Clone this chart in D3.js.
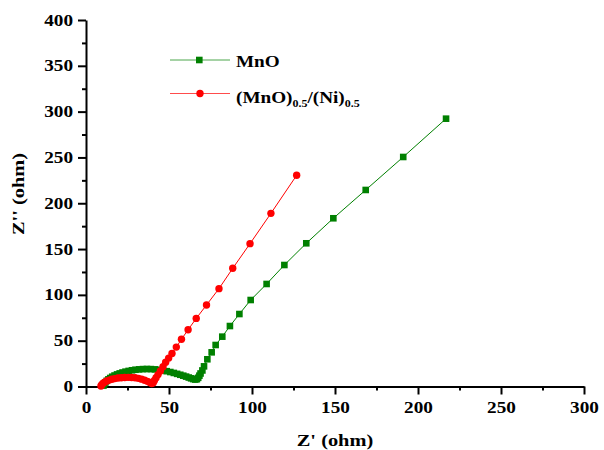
<!DOCTYPE html>
<html><head><meta charset="utf-8">
<script src="https://cdn.jsdelivr.net/npm/d3@7"></script>
<style>
html,body{margin:0;padding:0;background:#fff;}
svg{display:block;}
svg text{font-family:"Times New Roman","Liberation Serif",Times,Tinos,"DejaVu Serif",serif !important;font-weight:bold;}
</style></head>
<body>
<svg id="chart" width="604" height="450"></svg>
<script>
// Data (Z' in ohm, Z'' in ohm)
const mnoX = [10.5,11,11.7,12.5,13.5,14.6,15.8,17.2,18.7,20.3,22,23.8,25.7,27.7,29.8,32,34.3,36.7,39.1,41.5,43.9,46.3,48.6,50.8,52.9,54.9,56.8,58.6,60.3,61.9,63.3,64.6,65.8,66.8,67.6,68.3,69,70.1,71.1,73.1,75.7,78.1,82.1,86.7,92.4,99.2,108.8,119.5,132.7,149,168.5,191.1,216.9];
const mnoY = [1,2.8,4.5,6.2,7.8,9.3,10.7,12,13.2,14.3,15.3,16.2,17,17.7,18.3,18.7,19,19.1,19,18.7,18.2,17.5,16.7,15.8,14.8,13.8,12.8,11.8,10.8,9.8,8.9,8.1,7.6,8,9.5,11.8,14.2,17.5,22,29.7,37.3,45.3,54.4,66,79.1,94.4,111.9,132.6,156.3,183.6,214.5,250.5,292.3];
const mnoNiX = [9,9.5,10.3,11.3,12.5,14,15.6,17.3,19.2,21.2,23.3,25.4,27.5,29.6,31.6,33.5,35.3,37,38.5,39.6,40.5,41.2,42.2,43.4,44.8,46.4,48,49.8,51.8,54.4,57.5,61.5,66.4,72.6,80.1,88.4,98.8,111.4,126.9];
const mnoNiY = [0.5,2,3.5,4.8,6,7,7.9,8.6,9.2,9.6,9.9,10,9.9,9.5,8.9,8,6.9,5.6,4.3,3.3,4,6.5,9.5,13,17,21.5,26.5,31,36,43,51.5,62,74.3,89,106.8,129,155.9,189,230.5];
const xTicks = [0,50,100,150,200,250,300];
const yTicks = [0,50,100,150,200,250,300,350,400];
const xMinor = [25,75,125,175,225,275];
const yMinor = [25,75,125,175,225,275,325,375];
const seriesNames = ["MnO", "(MnO)0.5/(Ni)0.5"];

const SX = 1.2; // horizontal glyph stretch seen in the reference
const svg = d3.select("#chart");
const x = d3.scaleLinear().domain([0,300]).range([86,584]);
const y = d3.scaleLinear().domain([0,400]).range([386.5,20]);

// Axes
const gx = svg.append("g").attr("transform","translate(0,386.5)");
gx.call(d3.axisBottom(x).tickValues(xTicks).tickSize(8).tickSizeOuter(0).tickPadding(7));
const gxm = svg.append("g").attr("transform","translate(0,386.5)");
gxm.call(d3.axisBottom(x).tickValues(xMinor).tickSize(4).tickSizeOuter(0).tickFormat(""));
gxm.select(".domain").remove();

const gy = svg.append("g").attr("transform","translate(86,0)");
gy.call(d3.axisLeft(y).tickValues(yTicks).tickSize(8).tickSizeOuter(0).tickPadding(5));
const gym = svg.append("g").attr("transform","translate(86,0)");
gym.call(d3.axisLeft(y).tickValues(yMinor).tickSize(4).tickSizeOuter(0).tickFormat(""));
gym.select(".domain").remove();

svg.selectAll("g").attr("font-family",null);
svg.selectAll(".domain").attr("stroke","#000").attr("stroke-width",2);
svg.selectAll(".tick line").attr("stroke","#000").attr("stroke-width",2);
svg.selectAll(".tick text").attr("fill","#000").style("font-size","16px");
gx.selectAll(".tick text").attr("transform",`scale(${SX},1)`);
gy.selectAll(".tick text").attr("x",-13/SX).attr("transform",`scale(${SX},1)`);

// Axis titles
svg.append("text").attr("transform",`translate(335,446) scale(${SX},1)`).attr("text-anchor","middle")
  .style("font-size","17px").text("Z' (ohm)");
svg.append("text").attr("transform",`translate(24,194) rotate(-90) scale(${SX},1)`).attr("text-anchor","middle")
  .style("font-size","17px").text("Z'' (ohm)");

const line = d3.line().x(d=>x(d[0])).y(d=>y(d[1]));
const mnoData = mnoX.map((v,i)=>[v,mnoY[i]]);
const niData = mnoNiX.map((v,i)=>[v,mnoNiY[i]]);

// MnO series
svg.append("path").datum(mnoData).attr("d",line).attr("fill","none").attr("stroke","#008000").attr("stroke-width",1);
svg.append("g").selectAll("rect").data(mnoData).join("rect")
  .attr("x",d=>x(d[0])-3.3).attr("y",d=>y(d[1])-3.3).attr("width",6.6).attr("height",6.6).attr("fill","#008000");

// MnO/Ni series
svg.append("path").datum(niData).attr("d",line).attr("fill","none").attr("stroke","#ff0000").attr("stroke-width",1);
svg.append("g").selectAll("circle").data(niData).join("circle")
  .attr("cx",d=>x(d[0])).attr("cy",d=>y(d[1])).attr("r",3.7).attr("fill","#ff0000");

// Legend
const lg = svg.append("g");
lg.append("line").attr("x1",170).attr("x2",230).attr("y1",60).attr("y2",60).attr("stroke","#008000").attr("stroke-width",1).attr("stroke-opacity",0.7);
lg.append("rect").attr("x",199.3-3.3).attr("y",60-3.3).attr("width",6.6).attr("height",6.6).attr("fill","#008000");
lg.append("text").attr("transform",`translate(236,67) scale(${SX},1)`).style("font-size","16px").text(seriesNames[0]);
lg.append("line").attr("x1",170).attr("x2",230).attr("y1",93.5).attr("y2",93.5).attr("stroke","#ff0000").attr("stroke-width",1).attr("stroke-opacity",0.7);
lg.append("circle").attr("cx",200).attr("cy",93.5).attr("r",3.7).attr("fill","#ff0000");
const t2 = lg.append("text").attr("transform",`translate(236,103) scale(${SX},1)`).style("font-size","16px");
t2.append("tspan").text("(MnO)");
t2.append("tspan").attr("dy",4).style("font-size","10px").text("0.5");
t2.append("tspan").attr("dy",-4).text("/(Ni)");
t2.append("tspan").attr("dy",4).style("font-size","10px").text("0.5");
</script>
</body></html>
